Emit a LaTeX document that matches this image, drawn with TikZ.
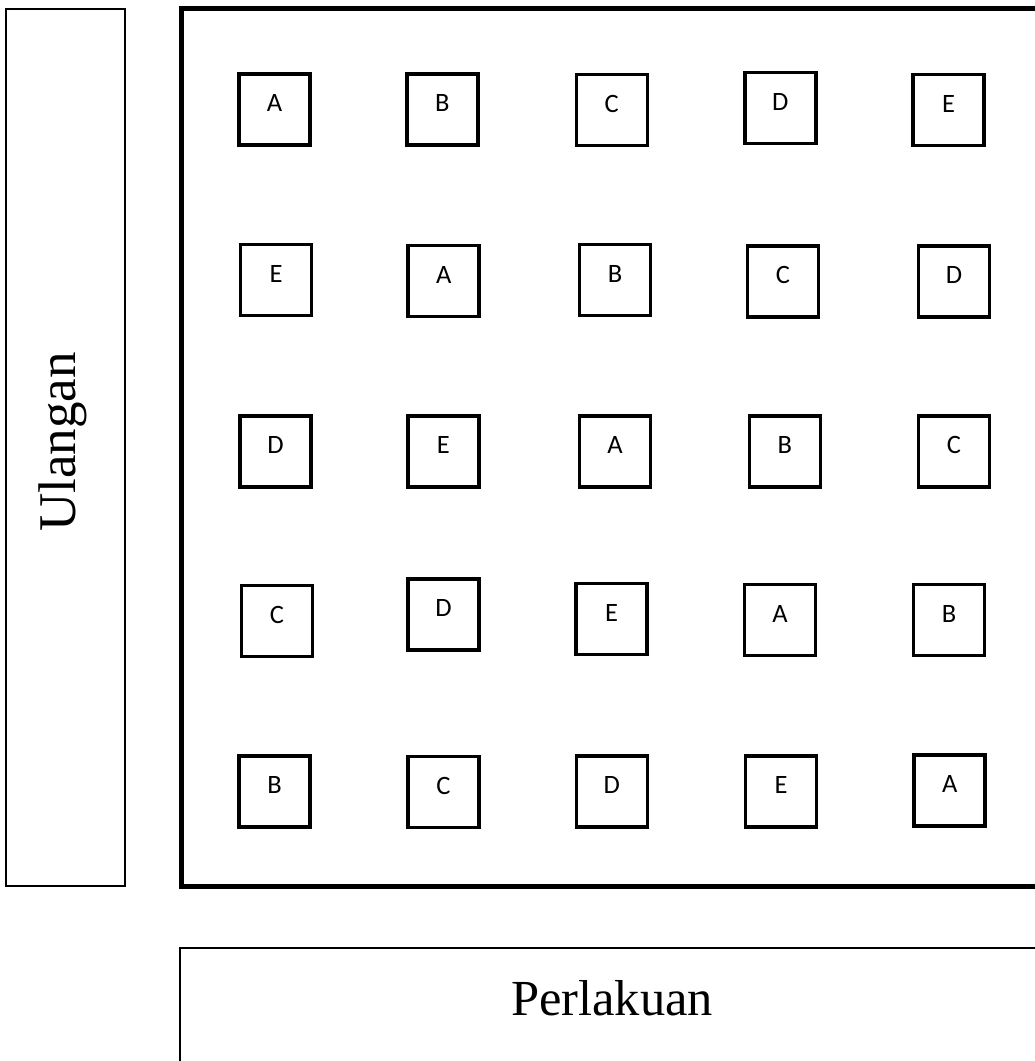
\documentclass[tikz,border=0pt]{standalone}
\usepackage{fontspec}
\setmainfont{Liberation Serif}
\newfontfamily\boxfont{Carlito}
\begin{document}
\begin{tikzpicture}[x=1pt,y=-1pt,
  plotbox/.style={draw, line width=3.6pt, minimum size=71pt, inner sep=0pt, rectangle},
  plotlabel/.style={anchor=base, font=\boxfont\fontsize{26.5}{31}\selectfont, inner sep=0pt},
  thinframe/.style={draw, line width=2pt},
  thickframe/.style={draw, line width=5pt}]
\useasboundingbox (0,0) rectangle (1035,1061);
\clip (0,0) rectangle (1035,1061);
% frames
\draw[thinframe] (6,9) rectangle (124.5,886);
\draw[thickframe] (181,8.5) rectangle (1060,886.5);
\draw[thinframe] (180,948) rectangle (1060,1080);
\node[rotate=90, anchor=base, inner sep=0pt, font=\fontsize{53}{60}\selectfont] (ulangan) at (75,442) {Ulangan};
\node[anchor=base, inner sep=0pt, font=\fontsize{50.5}{58}\selectfont] (perlakuan) at (612,1015) {Perlakuan};
% plots
\foreach \cx/\cy/\lt/\nm in {
  274.6/109.5/A/p11, 442.4/109.5/B/p12, 611.8/110/C/p13, 780.2/108/D/p14, 948.7/110/E/p15,
  276/280/E/p21, 443.7/281/A/p22, 615/280/B/p23, 783/281.5/C/p24, 954/281.5/D/p25,
  275.6/451.7/D/p31, 443.4/451.7/E/p32, 615/451.7/A/p33, 784.8/451.5/B/p34, 954/451.7/C/p35,
  277/621/C/p41, 443.5/614.5/D/p42, 611.5/619/E/p43, 780/620/A/p44, 949/620/B/p45,
  274.6/791.5/B/p51, 443.4/792/C/p52, 611.8/791.5/D/p53, 781/791.5/E/p54, 949.7/790.5/A/p55}
{
  \node[plotbox] (\nm) at (\cx,\cy) {};
  \node[plotlabel] (\nm t) at ([yshift=-2pt]\nm.center) {\lt};
}
\end{tikzpicture}
\end{document}
